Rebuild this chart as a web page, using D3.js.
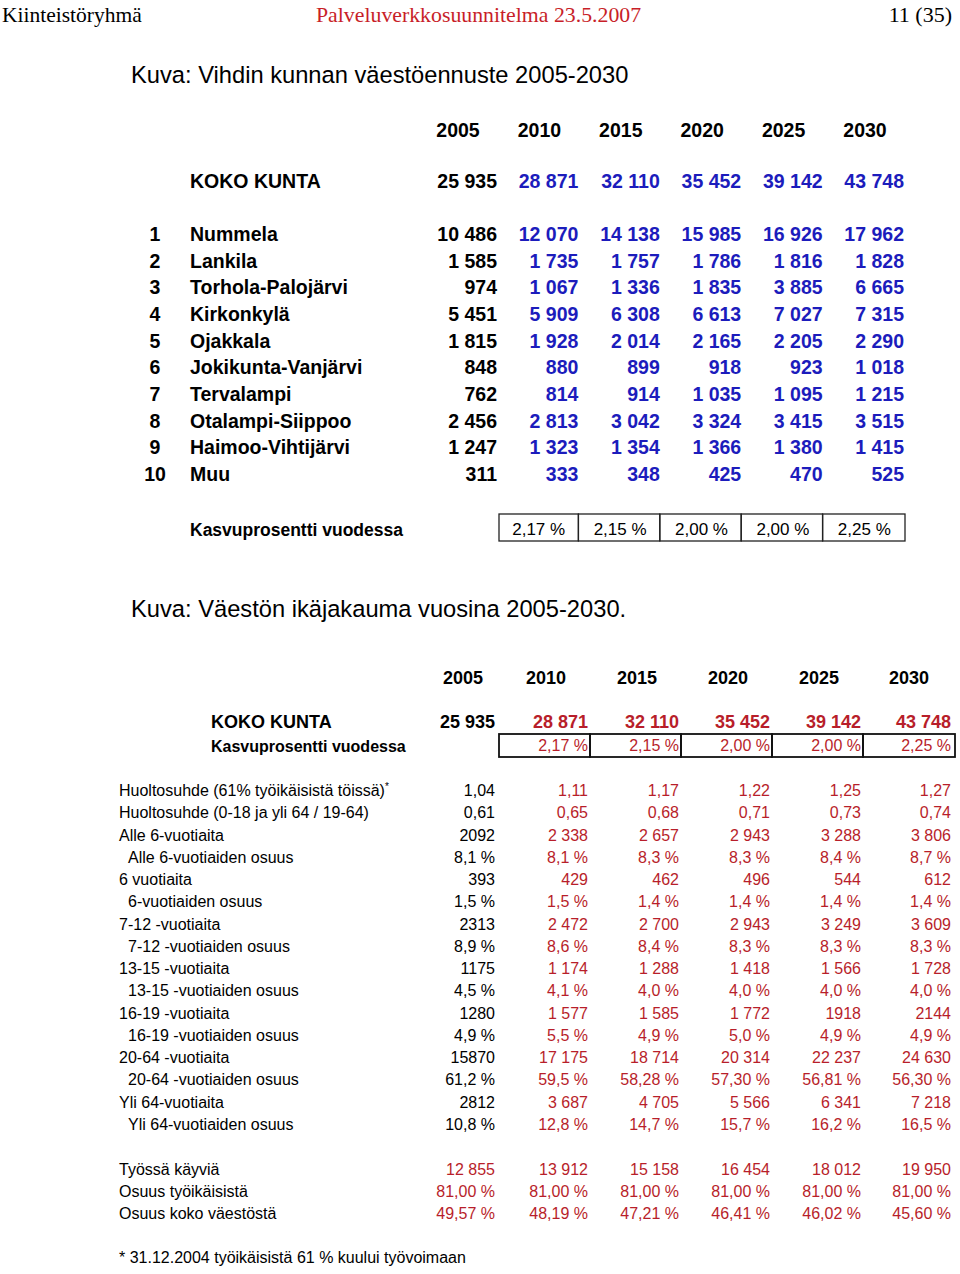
<!DOCTYPE html>
<html lang="fi">
<head>
<meta charset="UTF-8">
<script src="https://cdn.jsdelivr.net/npm/d3@7"></script>
<style>
  body { margin: 0; background: #fff; }
  text { font-family: "Liberation Sans", Arial, sans-serif; }
</style>
</head>
<body>
<script>
// --- data ---
const years = [2005, 2010, 2015, 2020, 2025, 2030];
const totals = [25935, 28871, 32110, 35452, 39142, 43748];
const growth = [2.17, 2.15, 2.00, 2.00, 2.25];

const areaNames = ["Nummela", "Lankila", "Torhola-Palojärvi", "Kirkonkylä", "Ojakkala",
  "Jokikunta-Vanjärvi", "Tervalampi", "Otalampi-Siippoo", "Haimoo-Vihtijärvi", "Muu"];
const areaValues = [
  [10486, 12070, 14138, 15985, 16926, 17962],
  [1585, 1735, 1757, 1786, 1816, 1828],
  [974, 1067, 1336, 1835, 3885, 6665],
  [5451, 5909, 6308, 6613, 7027, 7315],
  [1815, 1928, 2014, 2165, 2205, 2290],
  [848, 880, 899, 918, 923, 1018],
  [762, 814, 914, 1035, 1095, 1215],
  [2456, 2813, 3042, 3324, 3415, 3515],
  [1247, 1323, 1354, 1366, 1380, 1415],
  [311, 333, 348, 425, 470, 525]
];

const ageLabels = ["Huoltosuhde (61% työikäisistä töissä)", "Huoltosuhde (0-18 ja yli 64 / 19-64)",
  "Alle 6-vuotiaita", "Alle 6-vuotiaiden osuus", "6 vuotiaita", "6-vuotiaiden osuus",
  "7-12 -vuotiaita", "7-12 -vuotiaiden osuus", "13-15 -vuotiaita", "13-15 -vuotiaiden osuus",
  "16-19 -vuotiaita", "16-19 -vuotiaiden osuus", "20-64 -vuotiaita", "20-64 -vuotiaiden osuus",
  "Yli 64-vuotiaita", "Yli 64-vuotiaiden osuus"];
const ageValues = [
  [1.04, 1.11, 1.17, 1.22, 1.25, 1.27],
  [0.61, 0.65, 0.68, 0.71, 0.73, 0.74],
  [2092, 2338, 2657, 2943, 3288, 3806],
  [8.1, 8.1, 8.3, 8.3, 8.4, 8.7],
  [393, 429, 462, 496, 544, 612],
  [1.5, 1.5, 1.4, 1.4, 1.4, 1.4],
  [2313, 2472, 2700, 2943, 3249, 3609],
  [8.9, 8.6, 8.4, 8.3, 8.3, 8.3],
  [1175, 1174, 1288, 1418, 1566, 1728],
  [4.5, 4.1, 4.0, 4.0, 4.0, 4.0],
  [1280, 1577, 1585, 1772, 1918, 2144],
  [4.9, 5.5, 4.9, 5.0, 4.9, 4.9],
  [15870, 17175, 18714, 20314, 22237, 24630],
  [61.2, 59.5, 58.28, 57.30, 56.81, 56.30],
  [2812, 3687, 4705, 5566, 6341, 7218],
  [10.8, 12.8, 14.7, 15.7, 16.2, 16.5]
];
// decimals per row (array where a row mixes them)
const ageDecimals = [2, 2, 0, 1, 0, 1, 0, 1, 0, 1, 0, 1, 0, [1, 1, 2, 2, 2, 2], 0, 1];
// cells printed without a thousands space in the source
const ungrouped = ["2,0", "6,0", "8,0", "10,0", "12,0", "14,0", "10,4", "10,5"];

const workLabels = ["Työssä käyviä", "Osuus työikäisistä", "Osuus koko väestöstä"];
const workValues = [
  [12855, 13912, 15158, 16454, 18012, 19950],
  [81.00, 81.00, 81.00, 81.00, 81.00, 81.00],
  [49.57, 48.19, 47.21, 46.41, 46.02, 45.60]
];
const workDecimals = [0, 2, 2];

// --- setup ---
const w = 960, h = 1274;
const blue = "#1c1cbc", red = "#b81e2a", headRed = "#c81e28";
const fi = d3.formatLocale({decimal: ",", thousands: " ", grouping: [3], currency: ["", " €"]});
const fmtInt = fi.format(",.0f");
const fmtPlain = fi.format(".0f");

let svg = d3.select("body").append("svg").attr("width", w).attr("height", h);

// page header
svg.append("text").attr("x", 2).attr("y", 22).text("Kiinteistöryhmä")
  .style("font-family", "Liberation Serif, serif").attr("font-size", 21.5);
svg.append("text").attr("x", 316).attr("y", 22).text("Palveluverkkosuunnitelma 23.5.2007")
  .style("font-family", "Liberation Serif, serif").attr("font-size", 21.8).attr("fill", headRed);
svg.append("text").attr("x", 952).attr("y", 22).attr("text-anchor", "end").text("11 (35)")
  .style("font-family", "Liberation Serif, serif").attr("font-size", 22);

// ---------- table 1 ----------
svg.append("text").attr("x", 131).attr("y", 83).attr("font-size", 23.7)
  .text("Kuva: Vihdin kunnan väestöennuste 2005-2030");

let x1 = d3.scaleLinear().domain([2005, 2030]).range([497, 904]);
let y1 = d3.scaleLinear().domain([0, 9]).range([241, 481]);

let t1 = svg.append("g").attr("font-weight", "bold").attr("font-size", 19.5);

t1.selectAll(".yr").data(years).enter().append("text")
  .attr("x", d => x1(d) - 39).attr("y", 137).attr("text-anchor", "middle").text(d => d);

t1.append("text").attr("x", 190).attr("y", 188).text("KOKO KUNTA");
t1.selectAll(".tot").data(totals).enter().append("text")
  .attr("x", (d, i) => x1(years[i])).attr("y", 188).attr("text-anchor", "end")
  .attr("fill", (d, i) => i === 0 ? "#000" : blue).text(d => fmtInt(d));

let rows1 = t1.selectAll(".area").data(areaNames).enter().append("g")
  .attr("transform", (d, i) => `translate(0,${y1(i)})`);
rows1.append("text").attr("x", 155).attr("text-anchor", "middle").text((d, i) => i + 1);
rows1.append("text").attr("x", 190).text(d => d);
rows1.selectAll(".v").data((d, i) => areaValues[i]).enter().append("text")
  .attr("x", (d, j) => x1(years[j])).attr("text-anchor", "end")
  .attr("fill", (d, j) => j === 0 ? "#000" : blue).text(d => fmtInt(d));

// growth box 1
svg.append("text").attr("x", 190).attr("y", 536).attr("font-weight", "bold").attr("font-size", 17.5)
  .text("Kasvuprosentti vuodessa");
let box1 = svg.append("g");
box1.selectAll("rect").data(growth).enter().append("rect")
  .attr("x", (d, i) => x1(years[i]) + (i === 0 ? 2 : 0)).attr("y", 514)
  .attr("width", (d, i) => x1(years[i + 1]) - x1(years[i]) - (i === 0 ? 2 : 0) + (i === 4 ? 1 : 0))
  .attr("height", 27).attr("fill", "none").attr("stroke", "#222").attr("stroke-width", 1.3);
box1.selectAll("text").data(growth).enter().append("text")
  .attr("x", (d, i) => (x1(years[i]) + x1(years[i + 1])) / 2 + 1).attr("y", 535)
  .attr("text-anchor", "middle").attr("font-size", 17).text(d => fi.format(".2f")(d) + " %");

// ---------- table 2 ----------
svg.append("text").attr("x", 131).attr("y", 617).attr("font-size", 23.7)
  .text("Kuva: Väestön ikäjakauma vuosina 2005-2030.");

let x2 = d3.scaleOrdinal().domain(years).range([495, 588, 679, 770, 861, 951]);
let y2 = d3.scaleLinear().domain([0, 15]).range([796, 1130]);

let t2 = svg.append("g");
t2.selectAll(".yr").data(years).enter().append("text")
  .attr("x", (d, i) => x2(d) - (i === 0 ? 32 : 42)).attr("y", 684).attr("text-anchor", "middle")
  .attr("font-weight", "bold").attr("font-size", 18).text(d => d);

t2.append("text").attr("x", 211).attr("y", 728).attr("font-weight", "bold").attr("font-size", 18)
  .text("KOKO KUNTA");
t2.selectAll(".tot").data(totals).enter().append("text")
  .attr("x", (d, i) => x2(years[i])).attr("y", 728).attr("text-anchor", "end")
  .attr("font-weight", "bold").attr("font-size", 18)
  .attr("fill", (d, i) => i === 0 ? "#000" : red).text(d => fmtInt(d));

t2.append("text").attr("x", 211).attr("y", 752).attr("font-weight", "bold").attr("font-size", 16)
  .text("Kasvuprosentti vuodessa");
let box2 = t2.append("g");
box2.selectAll("rect").data(growth).enter().append("rect")
  .attr("x", (d, i) => x2(years[i]) + (i === 0 ? 4 : 2)).attr("y", 734)
  .attr("width", (d, i) => x2(years[i + 1]) - x2(years[i]) - (i === 0 ? 2 : 0) + (i === 4 ? 2 : 0))
  .attr("height", 23).attr("fill", "none").attr("stroke", "#111").attr("stroke-width", 1.8);
box2.selectAll("text").data(growth).enter().append("text")
  .attr("x", (d, i) => x2(years[i + 1])).attr("y", 751).attr("text-anchor", "end")
  .attr("font-size", 16).attr("fill", red).text(d => fi.format(".2f")(d) + " %");

function fmtCell(v, dec, isPct, key) {
  if (isPct) return fi.format("." + dec + "f")(v) + " %";
  if (dec > 0) return fi.format("." + dec + "f")(v);
  return ungrouped.includes(key) ? fmtPlain(v) : fmtInt(v);
}

let rows2 = t2.selectAll(".age").data(ageLabels).enter().append("g")
  .attr("transform", (d, i) => `translate(0,${y2(i)})`).attr("font-size", 16);
let lab2 = rows2.append("text").attr("x", d => d.endsWith("osuus") ? 128 : 119).text(d => d);
lab2.filter((d, i) => i === 0).append("tspan").attr("dy", -6).attr("font-size", 10).text("*");
rows2.each(function(label, i) {
  let dec = ageDecimals[i];
  let pct = label.endsWith("osuus");
  d3.select(this).selectAll(".v").data(ageValues[i]).enter().append("text")
    .attr("x", (d, j) => x2(years[j])).attr("text-anchor", "end")
    .attr("fill", (d, j) => j === 0 ? "#000" : red)
    .text((d, j) => fmtCell(d, Array.isArray(dec) ? dec[j] : dec, pct, i + "," + j));
});

let rows3 = t2.selectAll(".work").data(workLabels).enter().append("g")
  .attr("transform", (d, i) => `translate(0,${y2(17 + i)})`).attr("font-size", 16);
rows3.append("text").attr("x", 119).text(d => d);
rows3.each(function(label, i) {
  d3.select(this).selectAll(".v").data(workValues[i]).enter().append("text")
    .attr("x", (d, j) => x2(years[j])).attr("text-anchor", "end").attr("fill", red)
    .text(d => fmtCell(d, workDecimals[i], i > 0, ""));
});

svg.append("text").attr("x", 119).attr("y", 1263).attr("font-size", 16)
  .text("* 31.12.2004 työikäisistä 61 % kuului työvoimaan");
</script>
</body>
</html>
